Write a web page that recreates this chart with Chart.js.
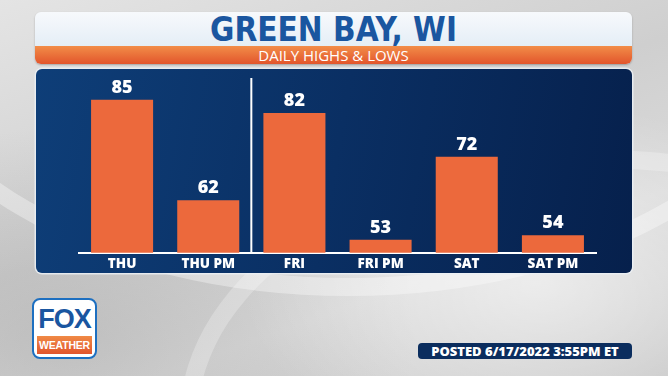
<!DOCTYPE html>
<html lang="en">
<head>
<meta charset="UTF-8">
<title>Green Bay, WI - Daily Highs & Lows</title>
<script src="https://cdn.jsdelivr.net/npm/chart.js"></script>
<style>
  html, body { margin: 0; padding: 0; }
  body {
    width: 668px; height: 376px; overflow: hidden; position: relative;
    font-family: "Open Sans", "Liberation Sans", sans-serif;
    background:
      radial-gradient(ellipse 420px 260px at 80% 75%, rgba(255,255,255,0.55), rgba(255,255,255,0) 70%),
      radial-gradient(ellipse 500px 300px at 10% 90%, rgba(150,150,150,0.35), rgba(150,150,150,0) 70%),
      linear-gradient(160deg, #e4e4e4 0%, #cfcfcf 45%, #dadada 70%, #c6c6c6 100%);
  }
  .swirl {
    position: absolute; border-radius: 50%;
    border: 18px solid rgba(255,255,255,0.35);
  }
  .card {
    position: absolute; left: 35px; top: 12px; width: 597px; height: 52px;
    border-radius: 6px; overflow: hidden;
    background: linear-gradient(#f7f9fc, #dbe8f3);
    box-shadow: 0 1px 2px rgba(0,0,0,0.25);
  }
  .title {
    position: absolute; left: 0; right: 0; top: 0px; text-align: center;
    font-family: "Liberation Sans Narrow", "DejaVu Sans Condensed", sans-serif;
    font-weight: bold; font-size: 33px; color: #1a56a0; line-height: 35px;
  }
  .sub {
    position: absolute; left: 0; right: 0; top: 34px; height: 18px;
    background: linear-gradient(#f28d48, #e2552c);
    color: #fff; text-align: center; font-size: 15px; line-height: 18px;
  }
  .panel {
    position: absolute; left: 36px; top: 69px; width: 596px; height: 204px;
    border-radius: 6px;
    background: linear-gradient(100deg, #0e3e78 0%, #0a2f63 50%, #06204c 100%);
    box-shadow: 0 0 0 1.5px rgba(235,240,245,0.85);
  }
  .panel canvas { position: absolute; left: 0; top: 0; }
  .logo {
    position: absolute; left: 32px; top: 298px; width: 61px; height: 57px;
    border: 2px solid #1d6fc0; border-radius: 8px; background: #fff; overflow: hidden;
  }
  .logo .fox {
    position: absolute; left: 0; right: 0; top: 6px; text-align: center;
    font-family: "Liberation Sans", sans-serif; font-weight: bold; font-size: 27px;
    color: #1a56a0; line-height: 26px; letter-spacing: -1px;
  }
  .logo .wx {
    position: absolute; left: 3px; right: 3px; top: 36px; height: 18px;
    background: linear-gradient(#f08a45, #e2552c);
    color: #fff; text-align: center; font-family: "Liberation Sans Narrow", sans-serif;
    font-weight: bold; font-size: 10.5px; line-height: 18px; letter-spacing: -0.2px;
  }
  .posted {
    position: absolute; left: 418px; top: 343px; width: 214px; height: 16px;
    background: #0b2d5e; border-radius: 4px; color: #fff; text-align: center;
    font-weight: 800; font-size: 13px; line-height: 16px;
  }
</style>
</head>
<body>
  <div class="swirl" style="left:-120px; top:-260px; width:900px; height:520px;"></div>
  <div class="swirl" style="left:180px; top:150px; width:800px; height:500px; border-color: rgba(255,255,255,0.25);"></div>

  <div class="card">
    <div class="title">GREEN BAY, WI</div>
    <div class="sub">DAILY HIGHS &amp; LOWS</div>
  </div>

  <div class="panel">
    <canvas id="chart" width="596" height="212"></canvas>
  </div>

  <div class="logo">
    <div class="fox">FOX</div>
    <div class="wx">WEATHER</div>
  </div>

  <div class="posted">POSTED 6/17/2022 3:55PM ET</div>

<script>
  const periods = ["THU", "THU PM", "FRI", "FRI PM", "SAT", "SAT PM"];
  const temps = [85, 62, 82, 53, 72, 54];
  const dividerAfter = 1; // line between THU PM and FRI

  const barLabels = {
    id: "barLabels",
    afterDatasetsDraw(chart) {
      const ctx = chart.ctx;
      const meta = chart.getDatasetMeta(0);
      ctx.save();
      ctx.fillStyle = "#ffffff";
      ctx.font = "800 18px 'Open Sans', sans-serif";
      ctx.textAlign = "center";
      ctx.textBaseline = "bottom";
      meta.data.forEach((bar, i) => {
        ctx.fillText(String(temps[i]), bar.x, bar.y - 3);
      });
      // divider line
      const x = chart.scales.x;
      const xPos = (x.getPixelForValue(dividerAfter) + x.getPixelForValue(dividerAfter + 1)) / 2;
      ctx.strokeStyle = "#ffffff";
      ctx.lineWidth = 2;
      ctx.beginPath();
      ctx.moveTo(xPos, chart.chartArea.top);
      ctx.lineTo(xPos, chart.chartArea.bottom);
      ctx.stroke();
      ctx.restore();
    }
  };

  new Chart(document.getElementById("chart"), {
    type: "bar",
    data: {
      labels: periods,
      datasets: [{
        data: temps,
        backgroundColor: "#ec693c",
        borderWidth: 0,
        categoryPercentage: 1,
        barPercentage: 0.72
      }]
    },
    options: {
      responsive: false,
      animation: false,
      events: [],
      layout: { padding: { left: 43, right: 36, top: 9, bottom: 6 } },
      plugins: { legend: { display: false }, tooltip: { enabled: false } },
      scales: {
        y: { display: false, min: 50, max: 90 },
        x: {
          grid: { display: false, drawTicks: false },
          border: { display: true, color: "#ffffff", width: 2 },
          ticks: {
            color: "#ffffff",
            padding: 3,
            font: { family: "'Open Sans', sans-serif", size: 13.5, weight: "800" }
          }
        }
      }
    },
    plugins: [barLabels]
  });
</script>
</body>
</html>
